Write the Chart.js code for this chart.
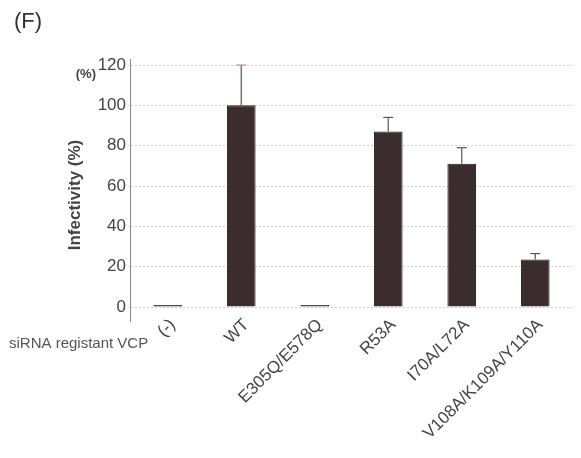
<!DOCTYPE html>
<html>
<head>
<meta charset="utf-8">
<script src="https://cdn.jsdelivr.net/npm/chart.js@4/dist/chart.umd.min.js"></script>
<style>
  html, body { margin: 0; padding: 0; background: #ffffff; }
  #wrap { position: relative; width: 581px; height: 458px; }
  canvas { display: block; }
</style>
</head>
<body>
<div id="wrap"><canvas id="c" width="581" height="458"></canvas></div>
<script>
// VCP constructs and measured infectivity (% of WT), with SD
const categories = ['(-)', 'WT', 'E305Q/E578Q', 'R53A', 'I70A/L72A', 'V108A/K109A/Y110A'];
const infectivity = [1, 100, 1, 87, 71, 23.5];
const errors = [0, 20, 0, 7, 8, 3];
const yTicks = [0, 20, 40, 60, 80, 100, 120];

const FONT = 'Liberation Sans, Arial, sans-serif';

// error bars, drawn through the y scale
const errorBars = {
  id: 'errorBars',
  afterDatasetsDraw(chart) {
    const { ctx, scales: { y } } = chart;
    const meta = chart.getDatasetMeta(0);
    ctx.save();
    meta.data.forEach((bar, i) => {
      const e = errors[i];
      if (!e) return;
      const v = infectivity[i];
      const xc = bar.x;
      const y0 = y.getPixelForValue(v);
      const y1 = y.getPixelForValue(v + e);
      ctx.strokeStyle = '#555';
      ctx.lineWidth = 1.2;
      ctx.beginPath();
      ctx.moveTo(xc, y0);
      ctx.lineTo(xc, y1);
      ctx.stroke();
      ctx.strokeStyle = i === 1 ? '#d98a8a' : '#555';
      ctx.beginPath();
      ctx.moveTo(xc - 5, y1);
      ctx.lineTo(xc + 5, y1);
      ctx.stroke();
    });
    ctx.restore();
  }
};

// panel letter, axis line, axis title and side labels
const decorations = {
  id: 'decorations',
  afterDraw(chart) {
    const { ctx, chartArea, scales: { y } } = chart;
    ctx.save();
    ctx.strokeStyle = '#888';
    ctx.lineWidth = 1;
    ctx.beginPath();
    ctx.moveTo(chartArea.left - 0.5, chartArea.top - 6);
    ctx.lineTo(chartArea.left - 0.5, chartArea.bottom + 15);
    ctx.stroke();

    ctx.fillStyle = '#333';
    ctx.font = '22px ' + FONT;
    ctx.textBaseline = 'middle';
    ctx.textAlign = 'left';
    ctx.fillText('(F)', 14, 22);

    ctx.font = 'bold 13px ' + FONT;
    ctx.fillStyle = '#444';
    ctx.textAlign = 'right';
    ctx.fillText('(%)', 96, y.getPixelForValue(120) + 9);

    ctx.font = '15px ' + FONT;
    ctx.fillStyle = '#555';
    ctx.textAlign = 'left';
    ctx.fillText('siRNA registant VCP', 9, 344);

    // y axis title
    ctx.save();
    ctx.translate(75, 195);
    ctx.rotate(-Math.PI / 2);
    ctx.font = 'bold 17px ' + FONT;
    ctx.fillStyle = '#444';
    ctx.textAlign = 'center';
    ctx.fillText('Infectivity (%)', 0, 0);
    ctx.restore();

    ctx.restore();
  }
};

new Chart(document.getElementById('c'), {
  type: 'bar',
  data: {
    labels: categories,
    datasets: [{
      data: infectivity,
      backgroundColor: '#3b2c2e',
      borderColor: '#231a1b',
      borderWidth: 1,
      barPercentage: 0.39,
      categoryPercentage: 1.0
    }]
  },
  options: {
    responsive: false,
    animation: false,
    layout: { padding: { left: 64, top: 65, right: 9, bottom: 0 } },
    plugins: { legend: { display: false }, tooltip: { enabled: false } },
    scales: {
      x: {
        grid: { display: false },
        border: { display: false },
        ticks: {
          color: '#444',
          font: { family: FONT, size: 17 },
          minRotation: 45,
          maxRotation: 45,
          padding: 0,
          labelOffset: 5
        },
        afterFit(s) { s.height = 151; }
      },
      y: {
        min: 0,
        max: 120,
        afterBuildTicks(s) { s.ticks = yTicks.map(v => ({ value: v })); },
        grid: {
          color: '#cfcfcf',
          lineWidth: 1,
          drawTicks: false
        },
        // dash here also applies to the grid lines
        border: { display: false, dash: [2, 2] },
        ticks: {
          color: '#444',
          font: { family: FONT, size: 17 },
          padding: 5
        },
        afterFit(s) { s.width = 67; }
      }
    }
  },
  plugins: [errorBars, decorations]
});
</script>
</body>
</html>
